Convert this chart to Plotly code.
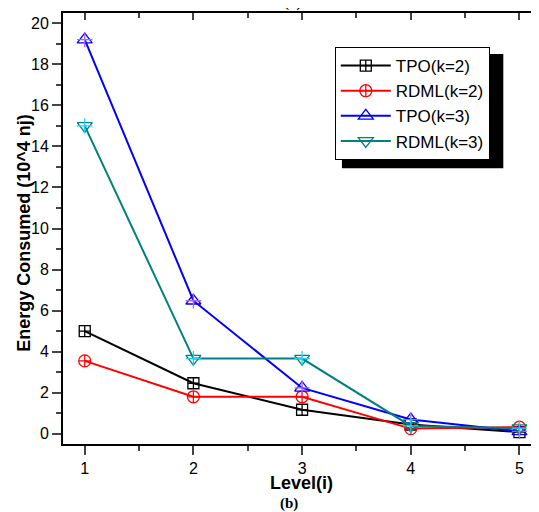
import plotly.graph_objects as go

# ─── Dados ───────────────────────────────
levels = [1, 2, 3, 4, 5]
tpo_k2 = [5.0, 2.46, 1.17, 0.45, 0.08]
rdml_k2 = [3.55, 1.8, 1.8, 0.25, 0.32]
tpo_k3 = [19.2, 6.48, 2.23, 0.69, 0.12]
rdml_k3 = [15.0, 3.66, 3.66, 0.38, 0.27]

SERIES = [
    ("TPO(k=2)", tpo_k2, "#000000", "square-cross-open", 11),
    ("RDML(k=2)", rdml_k2, "#FF0000", "circle-cross-open", 12),
    ("TPO(k=3)", tpo_k3, "#0000FF", "triangle-up-open", 13),
    ("RDML(k=3)", rdml_k3, "#008080", "triangle-down-open", 13),
]

FONT = "Liberation Sans, Arial, sans-serif"
SERIF = "Liberation Serif, Times New Roman, serif"
X_RANGE = [0.8, 5.18]
Y_RANGE = [-0.5, 20.5]

fig = go.Figure()
for nome, vals, cor, simbolo, tam in SERIES:
    fig.add_trace(
        go.Scatter(
            x=levels,
            y=vals,
            mode="lines+markers",
            name=nome,
            legendgroup=nome,
            line=dict(color=cor, width=2),
            marker=dict(symbol=simbolo, size=tam, color=cor, line=dict(width=1.3, color=cor)),
        )
    )
    if simbolo.startswith("triangle"):
        # cruz interna dos triângulos (estilo Origin)
        fig.add_trace(
            go.Scatter(
                x=levels,
                y=vals,
                mode="markers",
                legendgroup=nome,
                showlegend=False,
                hoverinfo="skip",
                marker=dict(symbol="cross-thin-open", size=11, line=dict(width=1.3, color=cor)),
            )
        )

# eixo espelhado (topo/direita) com ticks para dentro
fig.add_trace(go.Scatter(x=[], y=[], xaxis="x2", yaxis="y2", showlegend=False))

eixo_base = dict(
    showline=True,
    linecolor="black",
    linewidth=2,
    showgrid=False,
    zeroline=False,
    automargin=False,
    tickwidth=1.5,
)

# a página tem 8px de margem no body: compensado nas margens
fig.update_layout(
    width=539,
    height=512,
    margin=dict(l=55, r=8, t=5, b=76),
    plot_bgcolor="white",
    paper_bgcolor="white",
    font=dict(family=FONT, color="black"),
    legend=dict(
        x=0.571,
        y=0.921,
        xanchor="left",
        yanchor="top",
        bgcolor="white",
        bordercolor="black",
        borderwidth=1,
        font=dict(size=17, family=FONT),
        itemwidth=50,
        tracegroupgap=0,
    ),
    xaxis=dict(
        eixo_base,
        range=X_RANGE,
        tickvals=[1, 2, 3, 4, 5],
        ticks="outside",
        ticklen=9,
        minor=dict(dtick=0.5, tick0=0, ticks="outside", ticklen=5, tickwidth=1.5),
        tickfont=dict(size=16),
    ),
    yaxis=dict(
        eixo_base,
        range=Y_RANGE,
        tickvals=list(range(0, 21, 2)),
        ticks="outside",
        ticklen=9,
        minor=dict(dtick=1, tick0=0, ticks="outside", ticklen=5, tickwidth=1.5),
        tickfont=dict(size=16),
    ),
    xaxis2=dict(
        eixo_base,
        overlaying="x",
        side="top",
        range=X_RANGE,
        tickvals=[1, 2, 3, 4, 5],
        ticks="inside",
        ticklen=7,
        minor=dict(dtick=0.5, tick0=0, ticks="inside", ticklen=5, tickwidth=1.5),
        showticklabels=False,
    ),
    yaxis2=dict(
        eixo_base,
        overlaying="y",
        side="right",
        range=Y_RANGE,
        tickvals=list(range(0, 21, 2)),
        ticks="inside",
        ticklen=7,
        minor=dict(dtick=1, tick0=0, ticks="inside", ticklen=5, tickwidth=1.5),
        showticklabels=False,
    ),
)

# títulos dos eixos
fig.add_annotation(
    text="<b>Level(i)</b>", xref="paper", yref="paper", x=0.5, y=-0.091,
    yanchor="middle", showarrow=False, font=dict(size=18),
)
fig.add_annotation(
    text="<b>Energy Consumed (10^4 nj)</b>", xref="paper", yref="paper",
    x=-0.082, y=0.49, xanchor="center", yanchor="middle", textangle=-90,
    showarrow=False, font=dict(size=18),
)

# sombra da legenda
fig.add_shape(
    type="rect",
    xref="paper",
    yref="paper",
    x0=0.586,
    x1=0.925,
    y0=0.64,
    y1=0.905,
    fillcolor="black",
    line=dict(width=0),
    layer="below",
)

fig.add_annotation(
    text="<b>(b)</b>", xref="paper", yref="paper", x=0.475, y=-0.137,
    yanchor="middle", showarrow=False, font=dict(family=SERIF, size=15),
)
fig.add_annotation(
    text="<b>(a)</b>", xref="paper", yref="paper", x=0.483, y=0.999,
    yanchor="bottom", showarrow=False, font=dict(family=SERIF, size=15),
)

fig.write_html("out.html")
